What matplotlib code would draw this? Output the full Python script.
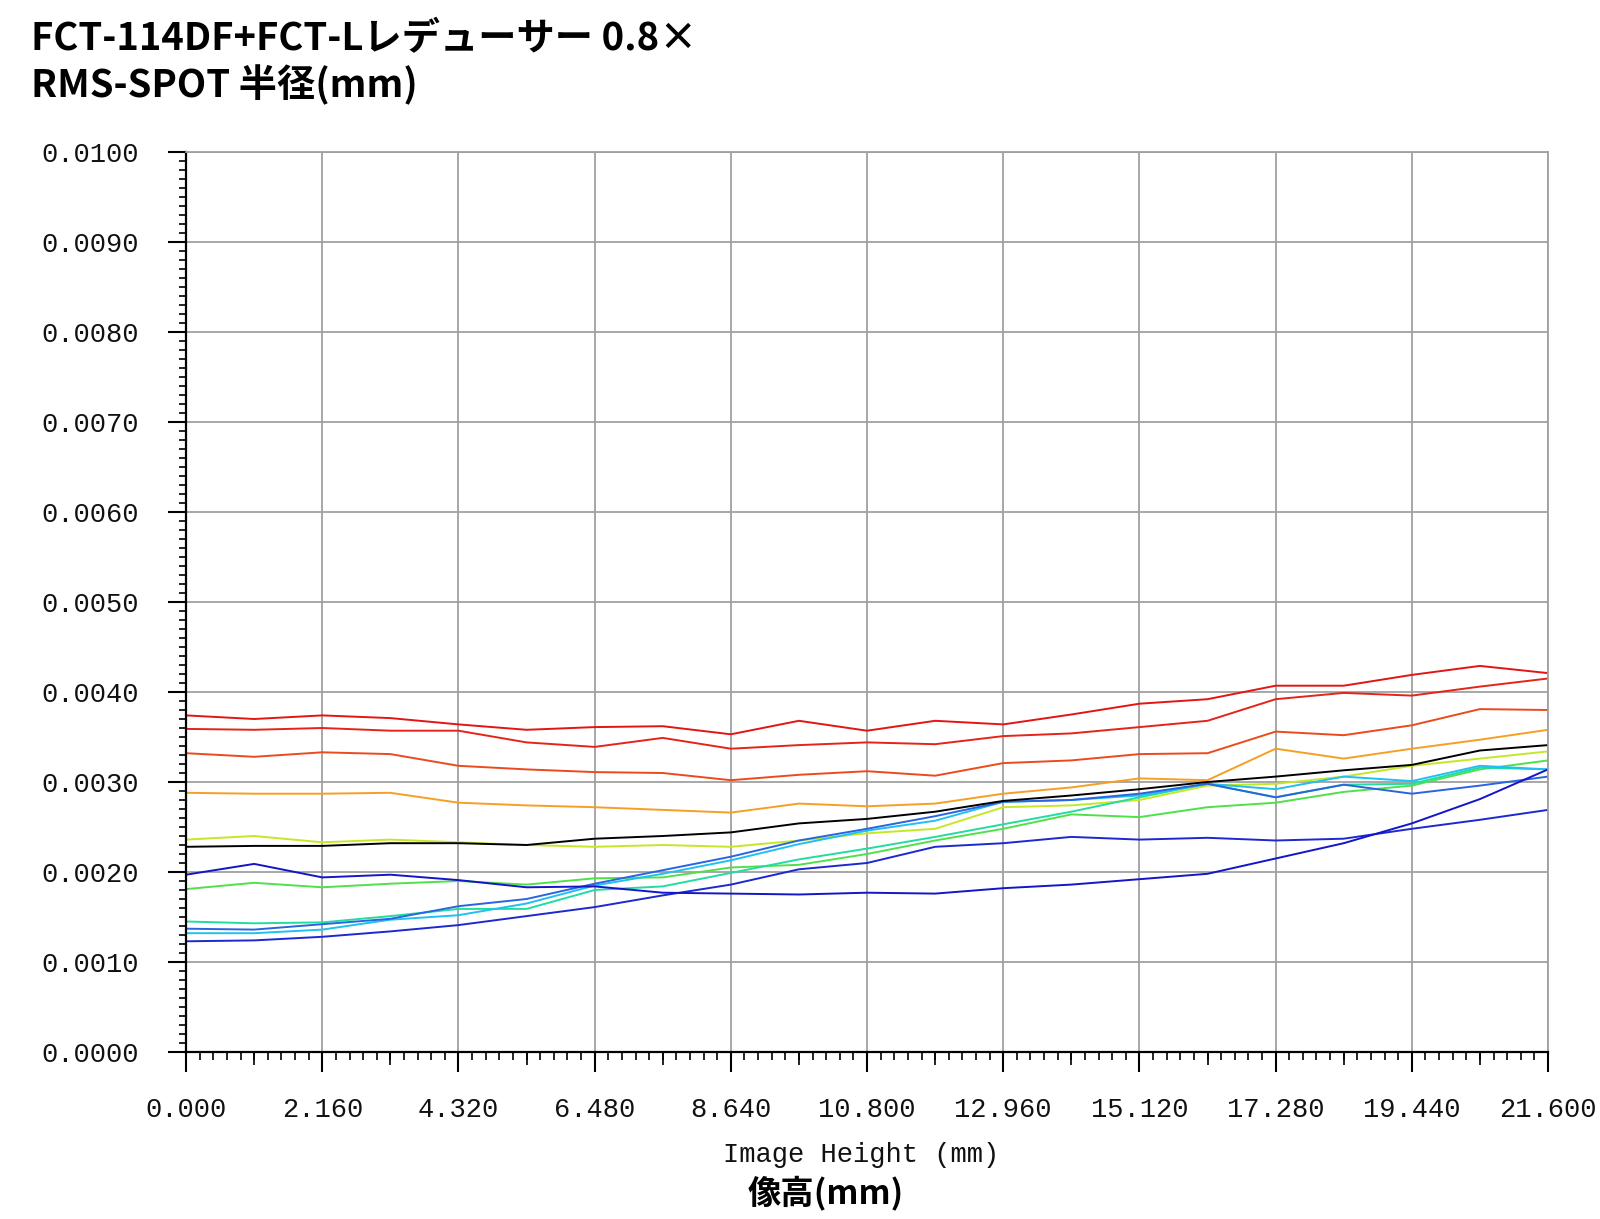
import numpy as np
import matplotlib
matplotlib.use('Agg')
import matplotlib.pyplot as plt
from matplotlib.ticker import FixedLocator, FormatStrFormatter

# image height (mm), sampled every 1.08 mm
image_height = [0.0, 1.08, 2.16, 3.24, 4.32, 5.40, 6.48, 7.56, 8.64, 9.72, 10.80,
                11.88, 12.96, 14.04, 15.12, 16.20, 17.28, 18.36, 19.44, 20.52, 21.60]

# RMS spot radius (mm), one curve per wavelength / field
red_1 = [0.00374, 0.00370, 0.00374, 0.00371, 0.00364, 0.00358, 0.00361, 0.00362, 0.00353, 0.00368, 0.00357,
         0.00368, 0.00364, 0.00375, 0.00387, 0.00392, 0.00407, 0.00407, 0.00419, 0.00429, 0.00421]
red_2 = [0.00359, 0.00358, 0.00360, 0.00357, 0.00357, 0.00344, 0.00339, 0.00349, 0.00337, 0.00341, 0.00344,
         0.00342, 0.00351, 0.00354, 0.00361, 0.00368, 0.00392, 0.00399, 0.00396, 0.00406, 0.00415]
orange_red = [0.00332, 0.00328, 0.00333, 0.00331, 0.00318, 0.00314, 0.00311, 0.00310, 0.00302, 0.00308, 0.00312,
              0.00307, 0.00321, 0.00324, 0.00331, 0.00332, 0.00356, 0.00352, 0.00363, 0.00381, 0.00380]
orange = [0.00288, 0.00287, 0.00287, 0.00288, 0.00277, 0.00274, 0.00272, 0.00269, 0.00266, 0.00276, 0.00273,
          0.00276, 0.00287, 0.00294, 0.00304, 0.00302, 0.00337, 0.00326, 0.00337, 0.00347, 0.00358]
yellow_green = [0.00236, 0.00240, 0.00233, 0.00236, 0.00233, 0.00230, 0.00228, 0.00230, 0.00228, 0.00235, 0.00243,
                0.00248, 0.00272, 0.00274, 0.00280, 0.00296, 0.00298, 0.00306, 0.00318, 0.00326, 0.00334]
black = [0.00228, 0.00229, 0.00229, 0.00232, 0.00232, 0.00230, 0.00237, 0.00240, 0.00244, 0.00254, 0.00259,
         0.00267, 0.00279, 0.00285, 0.00292, 0.00300, 0.00306, 0.00313, 0.00319, 0.00335, 0.00341]
dark_blue = [0.00197, 0.00209, 0.00194, 0.00197, 0.00191, 0.00183, 0.00184, 0.00177, 0.00176, 0.00175, 0.00177,
             0.00176, 0.00182, 0.00186, 0.00192, 0.00198, 0.00215, 0.00232, 0.00254, 0.00281, 0.00314]
green = [0.00181, 0.00188, 0.00183, 0.00187, 0.00190, 0.00186, 0.00193, 0.00194, 0.00205, 0.00208, 0.00220,
         0.00235, 0.00248, 0.00264, 0.00261, 0.00272, 0.00277, 0.00289, 0.00296, 0.00314, 0.00324]
teal = [0.00145, 0.00143, 0.00144, 0.00151, 0.00159, 0.00159, 0.00180, 0.00184, 0.00199, 0.00214, 0.00226,
        0.00239, 0.00253, 0.00267, 0.00283, 0.00298, 0.00283, 0.00297, 0.00298, 0.00316, 0.00314]
cyan = [0.00132, 0.00132, 0.00136, 0.00147, 0.00152, 0.00165, 0.00185, 0.00198, 0.00213, 0.00231, 0.00246,
        0.00257, 0.00278, 0.00280, 0.00285, 0.00298, 0.00292, 0.00306, 0.00301, 0.00318, 0.00314]
blue = [0.00137, 0.00136, 0.00142, 0.00148, 0.00162, 0.00170, 0.00187, 0.00202, 0.00217, 0.00235, 0.00248,
        0.00262, 0.00278, 0.00280, 0.00287, 0.00298, 0.00283, 0.00297, 0.00287, 0.00296, 0.00306]
deep_blue = [0.00123, 0.00124, 0.00128, 0.00134, 0.00141, 0.00151, 0.00161, 0.00174, 0.00186, 0.00203, 0.00210,
             0.00228, 0.00232, 0.00239, 0.00236, 0.00238, 0.00235, 0.00237, 0.00248, 0.00258, 0.00269]

curves = [red_1, red_2, orange_red, orange, yellow_green, green, teal, cyan, blue, deep_blue, dark_blue, black]
colors = ['#e41414', '#e42418', '#ec4a1c', '#f5a023', '#c4e828', '#50e04a', '#22dca0', '#20c0f0',
          '#2a64e0', '#1c28d0', '#1414c8', '#000000']

x_major = [0.0, 2.16, 4.32, 6.48, 8.64, 10.8, 12.96, 15.12, 17.28, 19.44, 21.6]
x_mid = [1.08, 3.24, 5.40, 7.56, 9.72, 11.88, 14.04, 16.20, 18.36, 20.52]
y_major = [0.0, 0.001, 0.002, 0.003, 0.004, 0.005, 0.006, 0.007, 0.008, 0.009, 0.010]

mono = 'Liberation Mono'
cjk = ['Noto Sans CJK JP', 'DejaVu Sans']

fig = plt.figure(figsize=(16, 12.19), dpi=100)
ax = fig.add_axes([0.1163, 0.137, 0.8512, 0.7383])

for vals, col in zip(curves, colors):
    ax.plot(image_height, vals, color=col, lw=1.4)

ax.set_xlim(0, 21.6)
ax.set_ylim(0, 0.010)

ax.xaxis.set_major_locator(FixedLocator(x_major))
ax.xaxis.set_minor_locator(FixedLocator(np.linspace(0, 21.6, 101)))
ax.yaxis.set_major_locator(FixedLocator(y_major))
ax.yaxis.set_minor_locator(FixedLocator(np.linspace(0, 0.01, 101)))
ax.xaxis.set_major_formatter(FormatStrFormatter('%.3f'))
ax.yaxis.set_major_formatter(FormatStrFormatter('%.4f'))

# lengths and pads are in points (1 pt = 1.39 px at dpi 100)
ax.tick_params(axis='x', which='major', direction='out', length=14.5, width=1.5, pad=18)
ax.tick_params(axis='x', which='minor', direction='out', length=5.5, width=1.2)
ax.tick_params(axis='y', which='major', direction='out', length=13, width=1.5, pad=21)
ax.tick_params(axis='y', which='minor', direction='out', length=5, width=1.2)
for lab in ax.get_xticklabels() + ax.get_yticklabels():
    lab.set_fontfamily(mono)
    lab.set_fontsize(19.5)
    lab.set_color('#111111')

# half-step ticks a bit longer than the minor ones
sec = ax.secondary_xaxis('bottom')
sec.set_xticks(x_mid)
sec.tick_params(axis='x', direction='out', length=9.5, width=1.2, labelbottom=False)
sec.spines['bottom'].set_visible(False)

ax.grid(True, which='major', color='#a0a0a0', lw=1.3)
for side in ['top', 'right']:
    ax.spines[side].set_color('#a0a0a0')
    ax.spines[side].set_linewidth(1.3)
for side in ['left', 'bottom']:
    ax.spines[side].set_color('black')
    ax.spines[side].set_linewidth(1.6)

fig.text(0.538, 1 - 1155 / 1219, 'Image Height (mm)', family=mono, fontsize=19.5,
         ha='center', va='center', color='#111111')
fig.text(0.516, 1 - 1193 / 1219, '像高(mm)', family=cjk, fontsize=24, fontweight='bold',
         ha='center', va='center')

fig.text(31 / 1600, 1 - 39 / 1219, 'FCT-114DF+FCT-Lレデューサー 0.8×', family=cjk, fontsize=27.5,
         fontweight='bold', ha='left', va='center')
fig.text(31 / 1600, 1 - 85 / 1219, 'RMS-SPOT 半径(mm)', family=cjk, fontsize=27.5,
         fontweight='bold', ha='left', va='center')

fig.savefig('out.png', dpi=100)
